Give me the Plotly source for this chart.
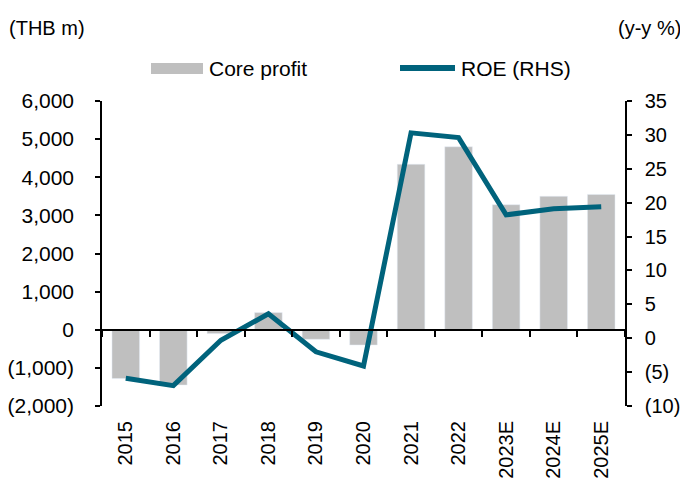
import plotly.graph_objects as go

categories = ["2015", "2016", "2017", "2018", "2019", "2020", "2021", "2022", "2023E", "2024E", "2025E"]
core_profit = [-1280, -1450, -100, 450, -250, -400, 4340, 4800, 3280, 3500, 3550]
roe = [-5.9, -7.0, -0.3, 3.6, -2.0, -4.1, 30.3, 29.6, 18.2, 19.1, 19.4]

left_vals = [-2000, -1000, 0, 1000, 2000, 3000, 4000, 5000, 6000]
left_text = ["(2,000)", "(1,000)", "0", "1,000", "2,000", "3,000", "4,000", "5,000", "6,000"]
right_vals = [-10, -5, 0, 5, 10, 15, 20, 25, 30, 35]
right_text = ["(10)", "(5)", "0", "5", "10", "15", "20", "25", "30", "35"]

BAR = "#BFBFBF"
LINE = "#00637C"
FONT = "Liberation Sans, Arial, sans-serif"
FS = 21

fig = go.Figure()
fig.add_trace(go.Bar(x=categories, y=core_profit, marker_color=BAR, name="Core profit",
                     xaxis="x", yaxis="y", showlegend=False))
fig.add_trace(go.Scatter(x=categories, y=roe, mode="lines", line=dict(color=LINE, width=5),
                         name="ROE (RHS)", xaxis="x", yaxis="y2", showlegend=False))
# invisible trace to render the zero-line axis with boundary ticks
fig.add_trace(go.Scatter(x=categories, y=core_profit, mode="markers", marker=dict(opacity=0),
                         xaxis="x2", yaxis="y", showlegend=False, hoverinfo="skip"))

# page has an 8px body margin; size the figure so the plot lands at page coordinates
OFF = 8
W, H = 688 - OFF, 481 - OFF
L, T = 102 - OFF, 101 - OFF
R = W - (625 - OFF)
B = H - (406 - OFF)
pw = W - L - R
ph = H - T - B

def px(xp):
    return (xp - OFF - L) / pw

def py(yp):
    return (H - B - (yp - OFF)) / ph

fig.update_layout(
    width=W, height=H,
    margin=dict(l=L, r=R, t=T, b=B),
    paper_bgcolor="white", plot_bgcolor="white",
    font=dict(family=FONT, size=FS, color="black"),
    bargap=0.42,
    xaxis=dict(type="category", categoryorder="array", categoryarray=categories,
               tickangle=-90, showline=False, ticks="", showgrid=False, automargin=False,
               ticklabelstandoff=10, tickfont=dict(size=20), range=[-0.5, 10.5]),
    xaxis2=dict(type="category", categoryorder="array", categoryarray=categories,
                overlaying="x", anchor="free", position=0.25, showticklabels=False,
                showline=True, linecolor="black", linewidth=1.5, ticks="outside",
                tickson="boundaries", ticklen=6, tickcolor="black", tickwidth=1.5,
                showgrid=False, automargin=False, range=[-0.5, 10.5]),
    yaxis=dict(range=[-2000, 6000], tickvals=left_vals, ticktext=left_text,
               showline=True, linecolor="black", linewidth=1.5, ticks="outside",
               ticklen=5, tickcolor="black", tickwidth=1.5, showgrid=False,
               zeroline=False, ticklabelstandoff=17, automargin=False),
    yaxis2=dict(range=[-10, 35], tickvals=right_vals, ticktext=right_text,
                overlaying="y", side="right", anchor="x",
                showline=True, linecolor="black", linewidth=1.5, ticks="outside",
                ticklen=5, tickcolor="black", tickwidth=1.5, showgrid=False,
                zeroline=False, ticklabelstandoff=9, tickfont=dict(size=20),
                automargin=False),
)

# manual legend
fig.add_shape(type="rect", xref="paper", yref="paper",
              x0=px(151), x1=px(203), y0=py(74), y1=py(63),
              fillcolor=BAR, line=dict(width=0))
fig.add_shape(type="line", xref="paper", yref="paper",
              x0=px(400), x1=px(455), y0=py(68), y1=py(68),
              line=dict(color=LINE, width=6))
fig.add_annotation(text="Core profit", xref="paper", yref="paper", x=px(207), y=py(68),
                   xanchor="left", yanchor="middle", showarrow=False, font=dict(size=FS))
fig.add_annotation(text="ROE (RHS)", xref="paper", yref="paper", x=px(459), y=py(68),
                   xanchor="left", yanchor="middle", showarrow=False, font=dict(size=FS))
fig.add_annotation(text="(THB m)", xref="paper", yref="paper", x=px(7), y=py(28),
                   xanchor="left", yanchor="middle", showarrow=False, font=dict(size=20))
fig.add_annotation(text="(y-y %)", xref="paper", yref="paper", x=px(683), y=py(28),
                   xanchor="right", yanchor="middle", showarrow=False, font=dict(size=20))

fig.write_html("out.html")
